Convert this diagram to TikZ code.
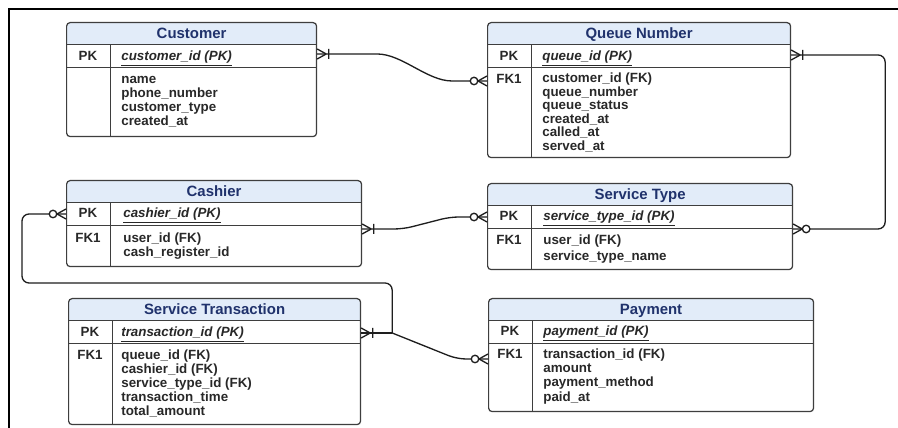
\documentclass[tikz,border=0pt]{standalone}
\usepackage{fontspec}
\setmainfont{Liberation Sans}
\definecolor{corborda}{RGB}{62,62,62}
\definecolor{corlinha}{RGB}{30,30,30}
\definecolor{corcabec}{RGB}{226,236,249}
\definecolor{cortitulo}{RGB}{32,50,108}
\definecolor{cortexto}{RGB}{40,40,40}

\tikzset{
  % crow's foot + bar (one or many)
  umvarios/.pic={
    \draw[marca] (0.18cm,0cm) -- (0cm,0.1cm) (0.18cm,0cm) -- (0cm,-0.1cm)
                 (0.23cm,0.1cm) -- (0.23cm,-0.1cm);
  },
  % crow's foot + circle (zero or many)
  zerovarios/.pic={
    \draw[marca] (0.18cm,0cm) -- (0cm,0.1cm) (0.18cm,0cm) -- (0cm,-0.1cm);
    \draw[marca, fill=white] (0.26cm,0cm) circle[radius=0.075cm];
  }
}

\begin{document}
\begin{tikzpicture}[x=0.02cm, y=-0.02cm,
  tabela/.style={draw=corborda, line width=0.7pt, rounded corners=2pt, fill=white,
                 anchor=north west, inner sep=0pt,
                 path picture={
                   \fill[corcabec, sharp corners] (path picture bounding box.north west)
                     rectangle ([yshift=-0.44cm]path picture bounding box.north east);
                   \draw[corborda, line width=0.7pt, sharp corners]
                     ([yshift=-0.44cm]path picture bounding box.north west) -- ++(8cm,0cm)
                     ([yshift=-0.90cm]path picture bounding box.north west) -- ++(8cm,0cm)
                     ([xshift=0.88cm,yshift=-0.44cm]path picture bounding box.north west)
                       -- ([xshift=0.88cm]path picture bounding box.south west);
                 }},
  titulo/.style={inner sep=0pt, text=cortitulo, text height=6.2pt, text depth=0.2pt,
                 font=\fontsize{8.5}{10}\selectfont\bfseries},
  chave/.style={inner sep=0pt, text=cortexto, text height=5.5pt, text depth=1.5pt,
                font=\fontsize{7.6}{9}\selectfont\bfseries},
  campo/.style={chave, anchor=west},
  campopk/.style={campo, font=\fontsize{7.6}{9}\selectfont\bfseries\itshape},
  ligacao/.style={draw=corlinha, line width=0.75pt},
  marca/.style={draw=corlinha, line width=0.75pt}
]
  \fill[white] (0,0) rectangle (898,428);
  \useasboundingbox (0,0) rectangle (898,428);
  \draw[line width=1.2pt, black] (898,9) -- (9,9) -- (9,428);

  % Customer
  \node[tabela, minimum width=5cm, minimum height=2.28cm] (customer) at (66,22) {};
  \node[titulo] at ([yshift=-0.22cm]customer.north) {Customer};
  \node[chave] at ([xshift=0.44cm,yshift=-0.69cm]customer.north west) {PK};
  \node[campopk] at ([xshift=1.1cm,yshift=-0.69cm]customer.north west) {\underline{customer\_id (PK)}};
  \foreach \c [count=\i] in {name, phone\_number, customer\_type, created\_at}
    \node[campo] at ([xshift=1.1cm,yshift=-0.88cm-\i*0.28cm]customer.north west) {\c};

  % Queue Number
  \node[tabela, minimum width=6.06cm, minimum height=2.7cm] (queue) at (487,22) {};
  \node[titulo] at ([yshift=-0.22cm]queue.north) {Queue Number};
  \node[chave] at ([xshift=0.44cm,yshift=-0.69cm]queue.north west) {PK};
  \node[campopk] at ([xshift=1.1cm,yshift=-0.69cm]queue.north west) {\underline{queue\_id (PK)}};
  \node[chave] at ([xshift=0.44cm,yshift=-1.16cm]queue.north west) {FK1};
  \foreach \c [count=\i] in {customer\_id (FK), queue\_number, queue\_status, created\_at, called\_at, served\_at}
    \node[campo] at ([xshift=1.1cm,yshift=-0.88cm-\i*0.27cm]queue.north west) {\c};

  % Cashier
  \node[tabela, minimum width=5.9cm, minimum height=1.72cm] (cashier) at (66,180) {};
  \node[titulo] at ([yshift=-0.22cm]cashier.north) {Cashier};
  \node[chave] at ([xshift=0.44cm,yshift=-0.68cm]cashier.north west) {PK};
  \node[campopk] at ([xshift=1.14cm,yshift=-0.68cm]cashier.north west) {\underline{cashier\_id (PK)}};
  \node[chave] at ([xshift=0.44cm,yshift=-1.18cm]cashier.north west) {FK1};
  \foreach \c [count=\i] in {user\_id (FK), cash\_register\_id}
    \node[campo] at ([xshift=1.14cm,yshift=-0.9cm-\i*0.28cm]cashier.north west) {\c};

  % Service Type
  \node[tabela, minimum width=6.1cm, minimum height=1.72cm] (stype) at (487,183) {};
  \node[titulo] at ([yshift=-0.22cm]stype.north) {Service Type};
  \node[chave] at ([xshift=0.44cm,yshift=-0.68cm]stype.north west) {PK};
  \node[campopk] at ([xshift=1.12cm,yshift=-0.68cm]stype.north west) {\underline{service\_type\_id (PK)}};
  \node[chave] at ([xshift=0.44cm,yshift=-1.16cm]stype.north west) {FK1};
  \foreach \c [count=\i] in {user\_id (FK), service\_type\_name}
    \node[campo] at ([xshift=1.12cm,yshift=-0.84cm-\i*0.32cm]stype.north west) {\c};

  % Service Transaction
  \node[tabela, minimum width=5.84cm, minimum height=2.52cm] (trans) at (68,298) {};
  \node[titulo] at ([yshift=-0.22cm]trans.north) {Service Transaction};
  \node[chave] at ([xshift=0.44cm,yshift=-0.7cm]trans.north west) {PK};
  \node[campopk] at ([xshift=1.06cm,yshift=-0.7cm]trans.north west) {\underline{transaction\_id (PK)}};
  \node[chave] at ([xshift=0.44cm,yshift=-1.16cm]trans.north west) {FK1};
  \foreach \c [count=\i] in {queue\_id (FK), cashier\_id (FK), service\_type\_id (FK), transaction\_time, total\_amount}
    \node[campo] at ([xshift=1.06cm,yshift=-0.88cm-\i*0.28cm]trans.north west) {\c};

  % Payment
  \node[tabela, minimum width=6.5cm, minimum height=2.26cm] (payment) at (488,298) {};
  \node[titulo] at ([yshift=-0.22cm]payment.north) {Payment};
  \node[chave] at ([xshift=0.44cm,yshift=-0.68cm]payment.north west) {PK};
  \node[campopk] at ([xshift=1.1cm,yshift=-0.68cm]payment.north west) {\underline{payment\_id (PK)}};
  \node[chave] at ([xshift=0.44cm,yshift=-1.14cm]payment.north west) {FK1};
  \foreach \c [count=\i] in {transaction\_id (FK), amount, payment\_method, paid\_at}
    \node[campo] at ([xshift=1.1cm,yshift=-0.84cm-\i*0.29cm]payment.north west) {\c};

  % relationship ports
  \coordinate (cust-r)  at ([yshift=-0.64cm]customer.north east);
  \coordinate (queue-l) at ([yshift=-1.18cm]queue.north west);
  \coordinate (queue-r) at ([yshift=-0.66cm]queue.north east);
  \coordinate (stype-l) at ([yshift=-0.68cm]stype.north west);
  \coordinate (stype-r) at ([yshift=-0.92cm]stype.north east);
  \coordinate (cash-l)  at ([yshift=-0.68cm]cashier.north west);
  \coordinate (cash-r)  at ([yshift=-0.98cm]cashier.north east);
  \coordinate (trans-r) at ([yshift=-0.7cm]trans.north east);
  \coordinate (pay-l)   at ([yshift=-1.22cm]payment.north west);
  \coordinate (juncao)  at ([xshift=0.62cm]trans-r);

  % relationships
  \draw[ligacao] (cust-r) -- ([xshift=1.2cm]cust-r)
    .. controls +(0.5cm,0cm) and +(-0.5cm,0cm) .. ([xshift=-0.7cm]queue-l) -- (queue-l);
  \draw[ligacao, rounded corners=4pt] (queue-r) -- ([xshift=1.88cm]queue-r) |- (stype-r);
  \draw[ligacao, rounded corners=5pt] (cash-r) -- ([xshift=0.82cm]cash-r)
    -- ([xshift=-0.74cm]stype-l) -- (stype-l);
  \draw[ligacao, rounded corners=4pt] (cash-l) -- ([xshift=-0.88cm]cash-l)
    |- ([yshift=1cm]juncao) -- (juncao);
  \draw[ligacao] (trans-r) -- (juncao);
  \draw[ligacao, rounded corners=5pt] (juncao) -- ([xshift=-0.62cm]pay-l) -- (pay-l);

  % cardinality marks
  \pic at (cust-r) {umvarios};
  \pic[rotate=180] at (queue-l) {zerovarios};
  \pic at (queue-r) {umvarios};
  \pic at (stype-r) {zerovarios};
  \pic[rotate=180] at (stype-l) {zerovarios};
  \pic at (cash-r) {umvarios};
  \pic[rotate=180] at (cash-l) {zerovarios};
  \pic at (trans-r) {umvarios};
  \pic[rotate=180] at (pay-l) {zerovarios};
\end{tikzpicture}
\end{document}
